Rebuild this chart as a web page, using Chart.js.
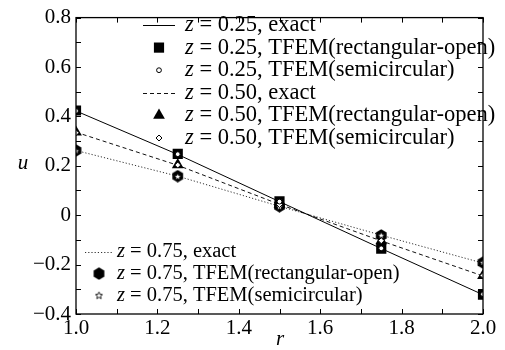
<!DOCTYPE html>
<html><head><meta charset="utf-8">
<script src="https://cdn.jsdelivr.net/npm/chart.js@4/dist/chart.umd.min.js"></script>
<style>html,body{margin:0;padding:0;background:#fff}</style>
</head><body>
<canvas id="c" width="505" height="350"></canvas>
<script>
// ---- data ----
const rValues = [1.0, 1.25, 1.5, 1.75, 2.0];
const exact025 = [0.422, 0.246, 0.055, -0.135, -0.322];
const exact050 = [0.336, 0.202, 0.044, -0.104, -0.246];
const exact075 = [0.262, 0.158, 0.036, -0.081, -0.194];
const rect025 = [0.424, 0.248, 0.056, -0.135, -0.322];
const semi025 = [0.422, 0.247, 0.055, -0.134, -0.320];
const rect050 = [0.336, 0.204, 0.044, -0.104, -0.245];
const semi050 = [0.334, 0.203, 0.043, -0.103, -0.244];
const rect075 = [0.262, 0.158, 0.036, -0.082, -0.192];
const semi075 = [0.261, 0.157, 0.035, -0.081, -0.191];
const xTickValues = [1.0, 1.2, 1.4, 1.6, 1.8, 2.0];
const yTickValues = [-0.4, -0.2, 0, 0.2, 0.4, 0.6, 0.8];
const labels = [
  ['0.25', 'exact'], ['0.25', 'TFEM(rectangular-open)'], ['0.25', 'TFEM(semicircular)'],
  ['0.50', 'exact'], ['0.50', 'TFEM(rectangular-open)'], ['0.50', 'TFEM(semicircular)'],
  ['0.75', 'exact'], ['0.75', 'TFEM(rectangular-open)'], ['0.75', 'TFEM(semicircular)']
];

// ---- custom marker images ----
function makeHex(size) {
  const c = document.createElement('canvas'); c.width = size; c.height = size;
  const g = c.getContext('2d'); const r = size / 2 - 0.3;
  g.beginPath();
  for (let i = 0; i < 6; i++) {
    const a = Math.PI / 6 + i * Math.PI / 3;
    const px = size / 2 + r * Math.cos(a), py = size / 2 + r * Math.sin(a);
    i ? g.lineTo(px, py) : g.moveTo(px, py);
  }
  g.closePath(); g.fillStyle = '#000'; g.fill();
  return c;
}
function makeStar(size) {
  const c = document.createElement('canvas'); c.width = size; c.height = size;
  const g = c.getContext('2d'); const R = size / 2 - 0.8, ri = R * 0.45;
  g.beginPath();
  for (let i = 0; i < 10; i++) {
    const a = -Math.PI / 2 + i * Math.PI / 5; const rr = i % 2 ? ri : R;
    const px = size / 2 + rr * Math.cos(a), py = size / 2 + 0.4 + rr * Math.sin(a);
    i ? g.lineTo(px, py) : g.moveTo(px, py);
  }
  g.closePath(); g.fillStyle = '#fff'; g.fill(); g.lineWidth = 0.9; g.strokeStyle = '#000'; g.stroke();
  return c;
}
const hexImg = makeHex(13);
const starImg = makeStar(9);

const pts = arr => rValues.map((r, i) => ({ x: r, y: arr[i] }));
function lineDs(arr, dash, color, label) {
  return { label, data: pts(arr), borderColor: color, borderWidth: 1, borderDash: dash, pointRadius: 0, fill: false, showLine: true, order: 3 };
}
function markDs(arr, style, radius, fill, border, bw, order, label) {
  return { label, data: pts(arr), showLine: false, pointStyle: style, pointRadius: radius, pointHoverRadius: radius,
    backgroundColor: fill, borderColor: border, pointBorderWidth: bw, borderWidth: bw, order };
}
const datasets = [
  lineDs(exact025, [], '#000', 'l025'),
  markDs(rect025, 'rect', 7.2, '#000', '#000', 0, 2, 'r025'),
  markDs(semi025, 'circle', 2.4, '#fff', '#000', 1, 1, 's025'),
  lineDs(exact050, [4, 3], '#111', 'l050'),
  markDs(rect050, 'triangle', 6.8, '#000', '#000', 0, 2, 'r050'),
  markDs(semi050, 'rectRot', 3.0, '#fff', '#000', 1, 1, 's050'),
  lineDs(exact075, [1.2, 2], '#333', 'l075'),
  markDs(rect075, hexImg, 6.5, '#000', '#000', 0, 2, 'r075'),
  markDs(semi075, starImg, 4.5, '#fff', '#000', 1, 1, 's075')
];

const FONT = '"Liberation Serif", "Times New Roman", serif';

function drawPt(ctx, ds, x, y) {
  ctx.save();
  ctx.fillStyle = ds.backgroundColor; ctx.strokeStyle = ds.borderColor; ctx.lineWidth = ds.pointBorderWidth;
  Chart.helpers.drawPoint(ctx, { pointStyle: ds.pointStyle, radius: ds.pointRadius, rotation: 0, borderWidth: ds.pointBorderWidth }, x, y);
  ctx.restore();
}

const decor = {
  id: 'decor',
  afterDraw(chart) {
    const ctx = chart.ctx, a = chart.chartArea, xs = chart.scales.x, ys = chart.scales.y;
    ctx.save();
    ctx.strokeStyle = '#000'; ctx.lineWidth = 1.3;
    ctx.strokeRect(a.left, a.top, a.right - a.left, a.bottom - a.top);
    ctx.lineWidth = 1;
    ctx.beginPath();
    xs.ticks.forEach(t => {
      const px = Math.round(xs.getPixelForValue(t.value)) + 0.5;
      ctx.moveTo(px, a.bottom); ctx.lineTo(px, a.bottom - 5);
      ctx.moveTo(px, a.top); ctx.lineTo(px, a.top + 5);
    });
    ys.ticks.forEach(t => {
      const py = Math.round(ys.getPixelForValue(t.value)) + 0.5;
      ctx.moveTo(a.left, py); ctx.lineTo(a.left + 5, py);
      ctx.moveTo(a.right, py); ctx.lineTo(a.right - 5, py);
    });
    ctx.stroke();
    ctx.fillStyle = '#000'; ctx.textAlign = 'center'; ctx.textBaseline = 'middle';
    ctx.font = 'italic 21px ' + FONT;
    ctx.fillText('u', 23, 163);
    ctx.fillText('r', 280, 339);
    const ds = chart.data.datasets;
    const g1 = { sx: 159, l0: 143, l1: 175, tx: 185, y0: 25, dy: 22.6, size: 22.5 };
    const g2 = { sx: 99, l0: 85, l1: 113, tx: 117, y0: 252, dy: 21.6, size: 20.5 };
    for (let i = 0; i < 9; i++) {
      const g = i < 6 ? g1 : g2; const k = i < 6 ? i : i - 6;
      const y = g.y0 + k * g.dy; const d = ds[i];
      if (i % 3 === 0) {
        ctx.save(); ctx.strokeStyle = d.borderColor; ctx.lineWidth = 1; ctx.setLineDash(d.borderDash);
        ctx.beginPath(); ctx.moveTo(g.l0, Math.round(y) + 0.5); ctx.lineTo(g.l1, Math.round(y) + 0.5); ctx.stroke(); ctx.restore();
      } else {
        drawPt(ctx, d, g.sx, y);
      }
      ctx.textAlign = 'left'; ctx.textBaseline = 'middle'; ctx.fillStyle = '#000';
      let x = g.tx;
      ctx.font = 'italic ' + g.size + 'px ' + FONT;
      ctx.fillText('z', x, y); x += ctx.measureText('z').width;
      ctx.font = g.size + 'px ' + FONT;
      ctx.fillText(' = ' + labels[i][0] + ', ' + labels[i][1], x, y);
    }
    ctx.restore();
  }
};

function build() {
  new Chart(document.getElementById('c'), {
    type: 'scatter',
    data: { datasets },
    options: {
      responsive: false, animation: false, devicePixelRatio: 1,
      layout: { padding: { top: 14, right: 22, left: 0, bottom: 0 } },
      plugins: { legend: { display: false }, tooltip: { enabled: false } },
      scales: {
        x: {
          type: 'linear', min: 1.0, max: 2.0,
          grid: { display: false, drawTicks: false }, border: { display: false },
          afterFit: s => { s.height = 36; },
          ticks: { stepSize: 0.1, autoSkip: false, maxRotation: 0, padding: 2, color: '#000',
            font: { family: FONT, size: 21 },
            callback: v => { const n = Math.round(v * 10); return xTickValues.some(t => Math.round(t * 10) === n) ? (n / 10).toFixed(1) : ''; } }
        },
        y: {
          type: 'linear', min: -0.4, max: 0.8,
          grid: { display: false, drawTicks: false }, border: { display: false },
          afterFit: s => { s.width = 76; },
          ticks: { stepSize: 0.1, autoSkip: false, padding: 5, color: '#000',
            font: { family: FONT, size: 21 },
            callback: v => { const n = Math.round(v * 10); if (!yTickValues.some(t => Math.round(t * 10) === n)) return '';
              if (n === 0) return '0'; return (n < 0 ? '\u2212' : '') + Math.abs(n / 10).toFixed(1); } }
        }
      }
    },
    plugins: [decor]
  });
}
Promise.all([
  document.fonts.load('20px "Liberation Serif"'),
  document.fonts.load('italic 20px "Liberation Serif"')
]).then(build, build);
</script>
</body></html>
